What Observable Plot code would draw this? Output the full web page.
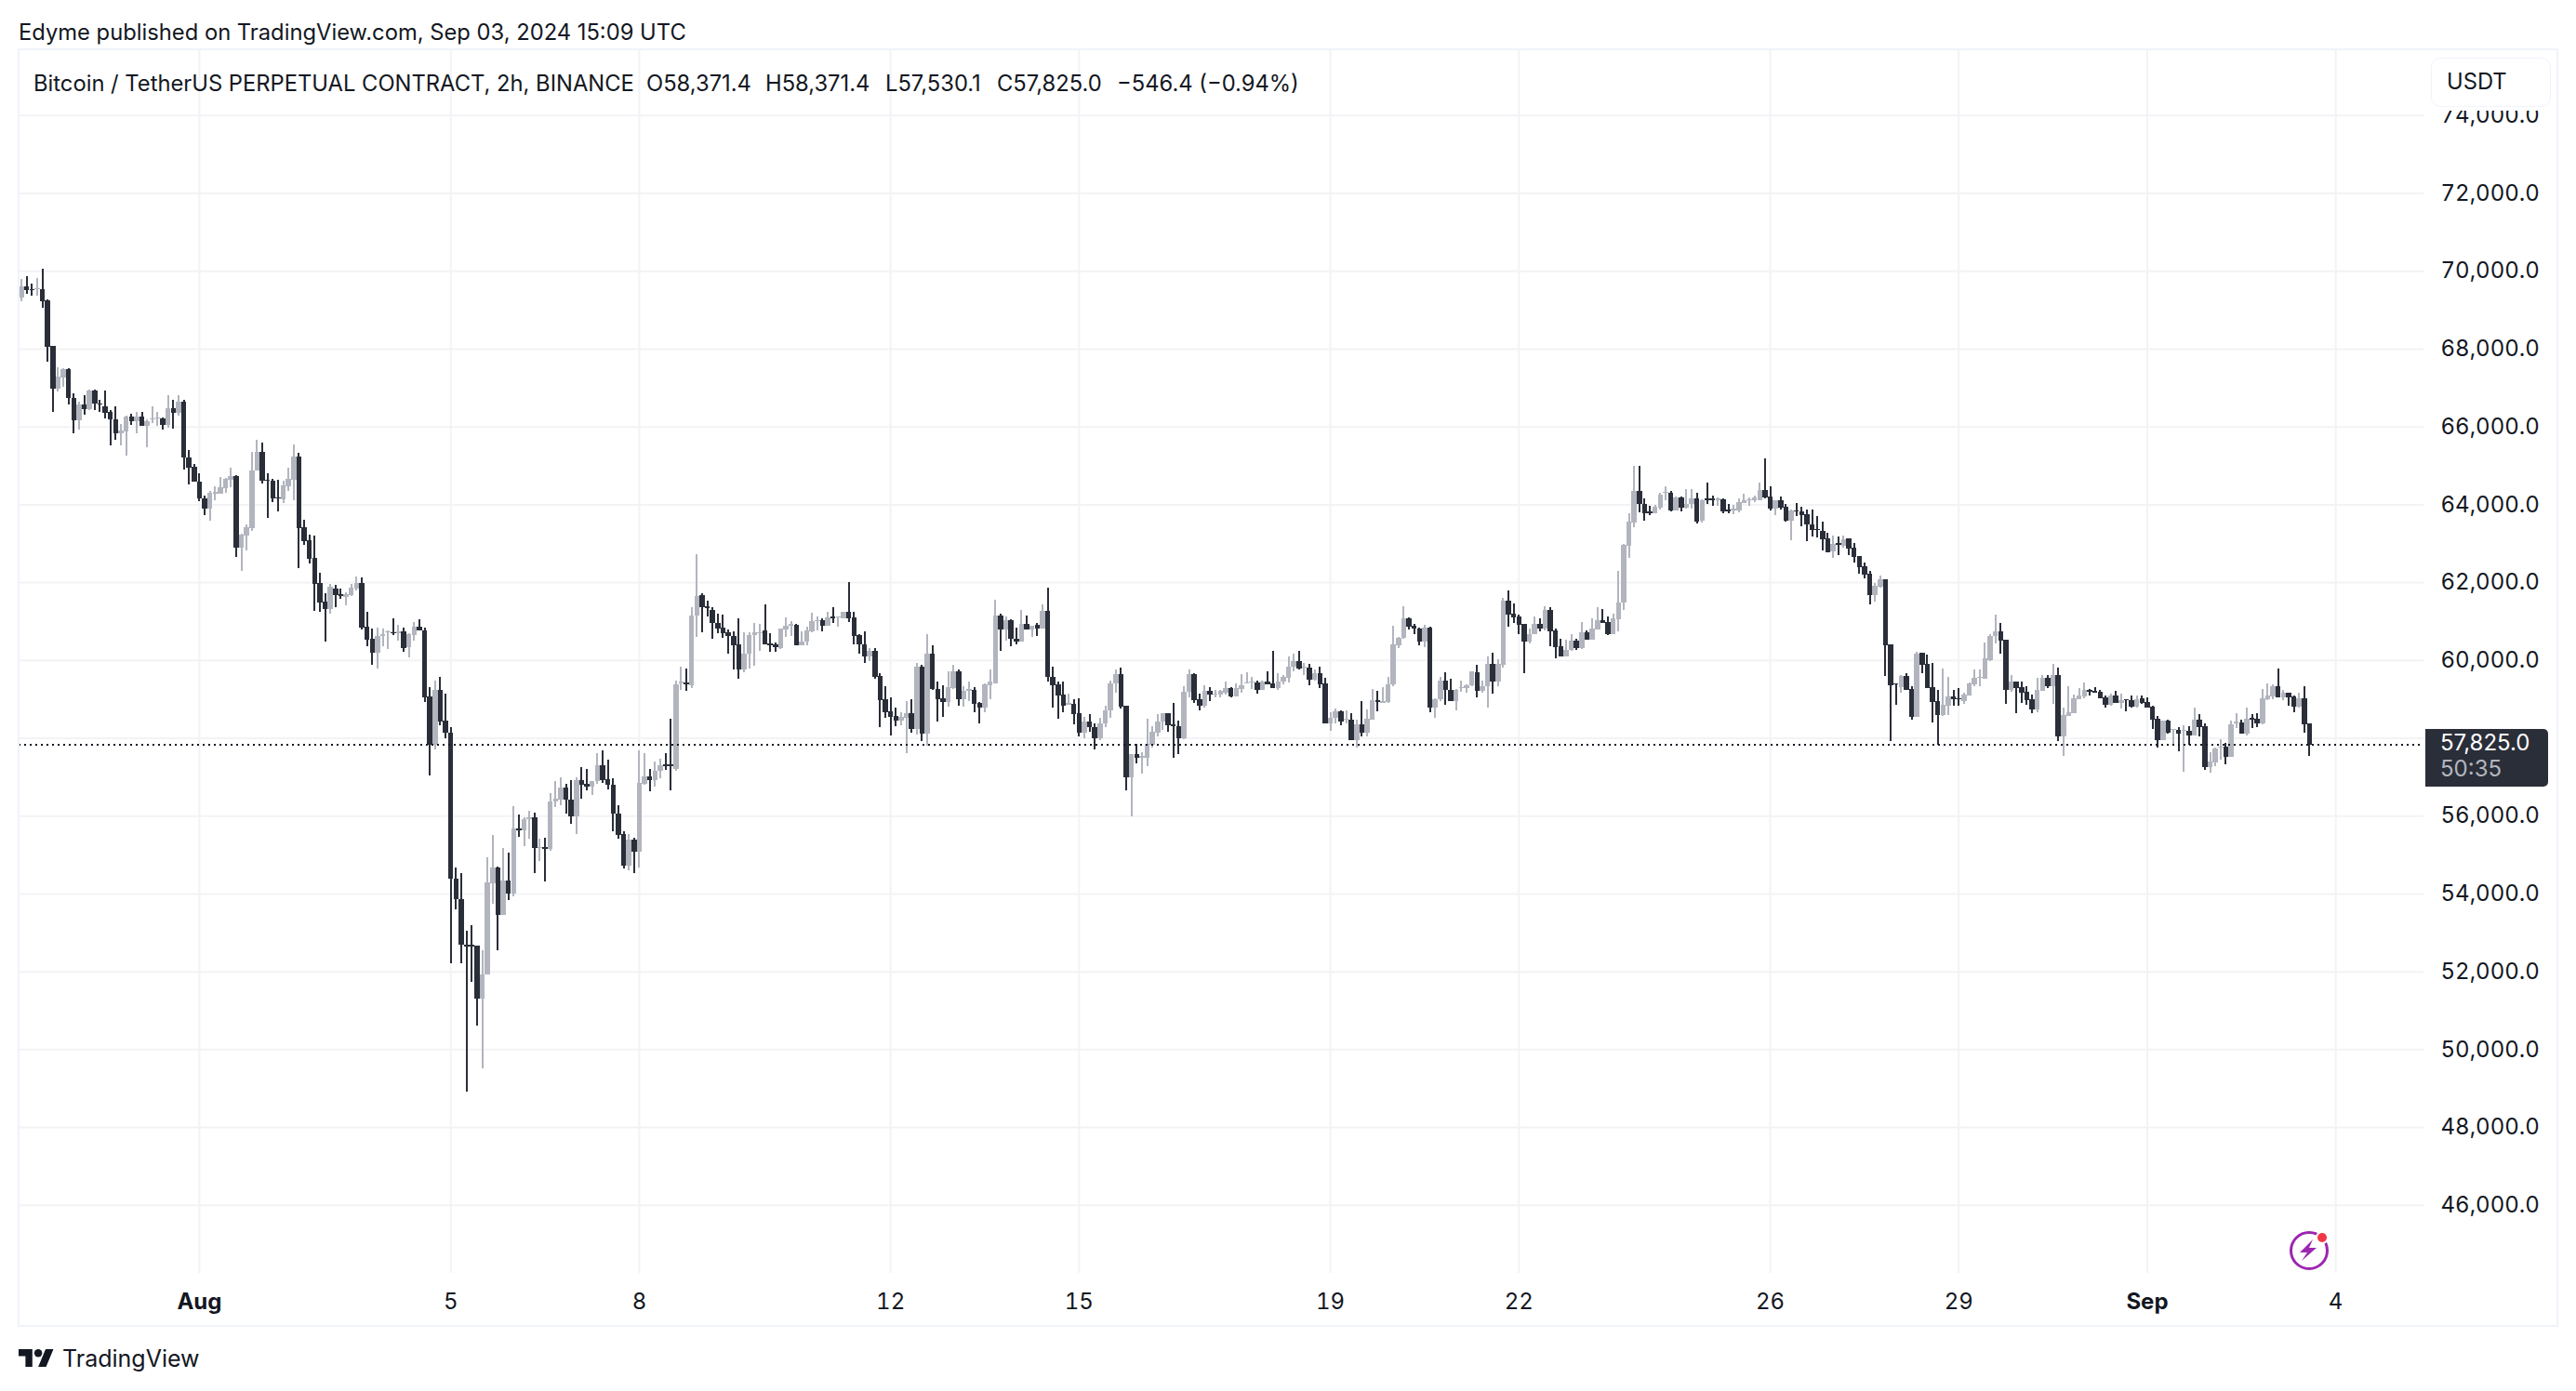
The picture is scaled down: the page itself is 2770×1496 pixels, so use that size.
<!DOCTYPE html>
<html><head><meta charset="utf-8">
<script src="https://cdn.jsdelivr.net/npm/d3@7"></script>
<script src="https://cdn.jsdelivr.net/npm/@observablehq/plot@0.6"></script>
<style>
html,body{margin:0;padding:0;background:#fff}
#page{position:relative;width:2770px;height:1496px;overflow:hidden;font-family:Inter,sans-serif;color:#131722;background:#fff}
#page svg.plot{position:absolute;left:0;top:0}
.t{position:absolute;white-space:nowrap;line-height:1;font-size:23.75px}
#frame{position:absolute;left:19px;top:52px;width:2728px;height:1371px;border:2px solid #f0f3fa}
#cover{position:absolute;left:2610px;top:55px;width:136px;height:64px;background:#fff}
#usdt{position:absolute;left:2614px;top:62px;width:127px;height:51px;border:1.5px solid #f0f3fa;border-radius:10px;background:#fff}
#last{position:absolute;left:2608px;top:784px;width:132px;height:62px;background:#2a2e39;border-radius:0 5px 5px 0}
</style></head><body><div id="page"></div>
<script>
const publishedLine = "Edyme published on TradingView.com, Sep 03, 2024 15:09 UTC";
const symbolLine = "Bitcoin / TetherUS PERPETUAL CONTRACT, 2h, BINANCE";
const quoteLabels = ["O58,371.4","H58,371.4","L57,530.1","C57,825.0","−546.4 (−0.94%)"];
const currencyLabel = "USDT";
const lastPrice = 57825.0;
const lastPriceLabel = "57,825.0";
const countdownLabel = "50:35";
const brandLabel = "TradingView";
const priceTicks = [46000,48000,50000,52000,54000,56000,58000,60000,62000,64000,66000,68000,70000,72000,74000];
const hiddenPriceLabels = [58000];
const dayTicks = ["2024-08-05","2024-08-08","2024-08-12","2024-08-15","2024-08-19","2024-08-22","2024-08-26","2024-08-29","2024-09-04"];
const monthTicks = ["2024-08-01","2024-09-01"];
const firstBarTime = "2024-07-29T04:00:00Z";
const barHours = 2;
const upColor = "#b2b5be", downColor = "#2a2e39";

// each row: open, high, low, close
const barsJul29 = [[69308,69785,69229,69602],[69602,69865,69403,69499],[69531,69682,69356,69499],[69523,69825,69356,69555],[69539,70055,69046,69229],[69252,69268,67662,68044],[68060,68076,66374,66971],[66971,67527,66899,67273],[67257,67488,67018,67472],[67464,67503,66565,66732],[66740,66860,65826,66160],[66160,66645,65921,66573],[66573,66796,66303,66446],[66446,66955,66430,66915],[66915,66955,66422,66581],[66597,66677,66367,66565],[66526,66915,66208,66351],[66367,66430,65508,66184],[66192,66526,65651,65826],[65834,66056,65508,65890],[65866,66279,65254,66263],[66263,66319,66040,66136],[66136,66382,65826,66263],[66263,66382,66017,66017],[66017,66192,65468,66144],[66184,66526,66088,66216],[66216,66367,66009,66239],[66216,66224,65913,66040],[66040,66812,65969,66478],[66478,66693,65945,66351],[66343,66812,66279,66645],[66645,66693,64888,65206],[65214,65405,64514,64943],[64960,65031,64578,64578]];
const barsAug1 = [[64594,64808,64077,64157],[64157,64236,63719,63886],[63886,64339,63576,64292],[64276,64474,64101,64315],[64276,64697,64268,64435],[64411,64673,64292,64649],[64633,64936,64435,64721],[64721,64745,62646,62884],[62884,63242,62296,63211],[63202,63481,62821,63401],[63393,65341,63314,64880],[64872,65651,64872,65341],[65341,65580,64538,64602],[64642,64808,63656,64610],[64602,64649,64061,64157],[64188,64625,63822,64157],[64133,64602,64037,64482],[64459,64951,64339,64649],[64633,65532,64109,65222],[65222,65333,62368,63393],[63401,63600,62964,63059],[63075,63218,62487,62606],[62614,63195,61270,61962],[61978,62233,61231,61485],[61501,61708,60484,61311],[61311,61946,61199,61883],[61844,61924,61364,61661],[61684,61844,61581,61638],[61615,61730,61410,61695],[61672,61958,61638,61866],[61832,62152,61786,61981],[61981,62118,60781,60839],[60861,61238,60359,60519],[60542,60816,59880,60188],[60188,60839,59788,60610],[60610,60816,60348,60656],[60702,60770,60290,60747],[60724,61067,60644,60690],[60690,60907,60496,60747],[60747,60839,60210,60302],[60325,60679,60073,60667],[60633,60976,60496,60861],[60861,61044,60770,60770],[60770,60839,58920,59046],[59069,59297,57036,57812],[57812,59468,57698,59240],[59240,59560,58326,58417],[58440,59126,57984,58121]];
const barsAug5 = [[58121,58269,52217,54375],[54375,54672,53587,53850],[53850,54535,52217,52673],[52685,53050,48905,52639],[52673,53187,51725,52639],[52650,52650,50595,51292],[51292,52548,49510,51931],[51931,54935,51908,54284],[54272,55494,53735,54672],[54672,54695,52536,53438],[53438,55174,53438,54329],[54329,55049,53838,53987],[53987,56248,53918,55677],[55677,56019,55448,55631],[55620,55951,55220,55905],[55905,56134,55414,55962],[55962,56088,54535,55163],[55163,55414,54843,55197],[55197,55425,54306,55152],[55152,56579,55106,56362],[56362,56899,56214,56442],[56408,56990,56271,56727],[56727,56807,56065,56408],[56419,56922,55802,55974],[55974,56990,55517,56922],[56922,57241,56442,56796],[56807,57207,56659,56750],[56750,56899,56522,56899],[56887,57618,56819,57298],[57298,57675,56842,56922],[56933,57435,56670,56784],[56784,56956,55608,56042],[56042,56270,55403,55506],[55517,55608,54649,54717],[54717,55517,54603,55380],[55391,55437,54512,55083]];
const barsAug8 = [[55083,57687,54672,56842],[56819,57595,56784,57013],[57001,57207,56636,56922],[56910,57390,56750,57150],[57150,57458,56956,57298],[57321,57618,57184,57275],[57310,58498,56647,57264],[57207,59468,57150,59377],[59400,59834,59240,59446],[59423,59788,59217,59377],[59354,61353,59286,61147],[61135,62712,60587,61638],[61661,61706,60724,61353],[61375,61524,61113,61341],[61295,61353,60553,60941],[60941,61181,60679,60816],[60827,61158,60576,60690],[60702,60782,60153,60610],[60610,60747,59765,60382],[60405,61067,59514,59765],[59765,60702,59685,60153],[60153,60713,59788,60633],[60633,60953,59857,60702],[60679,60930,60245,60724],[60770,61432,60405,60405],[60428,60690,60210,60382],[60393,60439,60199,60336],[60313,60816,60290,60816],[60789,61084,60582,60869],[60885,60988,60606,60916],[60892,60924,60366,60366],[60366,60725,60366,60478],[60470,60845,60366,60749],[60725,61203,60701,60988],[60988,61124,60765,61028],[61028,61060,60725,60877],[60869,61227,60869,61084],[61108,61347,60940,61060],[61084,61124,60845,61108],[61060,61227,61060,61227],[61227,62000,60964,61068],[61084,61243,60390,60606],[60630,60669,60151,60398],[60406,60725,59912,60088],[60088,60311,59968,60239],[60239,60311,59514,59577],[59601,59649,58270,58964],[58980,59330,58509,58669]];
const barsAug12 = [[58685,59051,58071,58549],[58565,58780,58310,58454],[58454,58661,58334,58541],[58525,58956,57617,58645],[58645,58996,58143,58239],[58239,59928,58095,59817],[59817,59880,57928,58119],[58119,60669,57792,60167],[60167,60382,59227,59251],[59259,59450,58414,59003],[59019,59362,58533,58932],[58932,59713,58812,59314],[59290,59880,59243,59697],[59697,59745,58836,58980],[58980,59330,58812,59195],[59195,59434,58956,59243],[59219,59291,58669,58884],[58908,58932,58366,58788],[58788,59394,58669,59370],[59362,59745,58988,59434],[59410,61538,59410,61132],[61132,61179,60231,60773],[60773,61124,60486,61012],[61012,61036,60343,60542],[60550,60821,60390,60462],[60462,61275,60462,60916],[60916,61132,60773,60773],[60773,60885,60582,60885],[60892,60940,60606,60797],[60797,61418,60797,61251],[61251,61849,59434,59554],[59577,59817,58765,59362],[59386,59434,58501,59099],[59123,59434,58669,58836],[58860,59147,58860,58908],[58884,58996,58358,58621]];
const barsAug15 = [[58645,59027,58047,58143],[58143,58549,57983,58430],[58426,58609,58156,58267],[58283,58370,57695,57997],[57981,58521,57933,58378],[58362,58823,58267,58712],[58696,59459,58505,59404],[59388,59746,59165,59642],[59642,59801,58744,58808],[58831,58831,56645,56979],[56979,57591,55985,57591],[57591,57838,57337,57496],[57496,57631,57074,57536],[57496,58490,57281,57838],[57822,58299,57758,58156],[58140,58609,58028,58426],[58410,58640,58211,58633],[58633,58640,58156,58330],[58346,58903,57496,58299],[58299,58450,57591,57997],[57997,59324,57973,59181],[59173,59762,59046,59634],[59642,59666,58903,58966],[58990,59141,58712,58831],[58831,59348,58768,59205],[59205,59300,58951,59102],[59110,59237,59046,59141],[59110,59229,59030,59205],[59165,59444,59110,59276],[59276,59300,59030,59070],[59070,59396,59070,59276],[59261,59642,59165,59348],[59396,59682,59396,59428],[59412,59563,59261,59451],[59428,59475,59125,59229],[59237,59475,59221,59444],[59444,59706,59364,59380],[59396,60239,59269,59284],[59284,59666,59221,59444],[59436,59618,59364,59555],[59539,60095,59412,59825],[59817,60159,59698,59976],[59976,60239,59762,59770],[59793,59921,59618,59825],[59801,59897,59340,59483],[59483,59746,59459,59666],[59666,59825,59284,59380],[59404,59547,58362,58362]];
const barsAug19 = [[58362,58664,58171,58513],[58505,58744,58370,58688],[58688,58712,58330,58426],[58466,58712,58362,58489],[58466,58640,57933,57949],[57949,58466,57758,58354],[58354,58951,58028,58140],[58140,58728,58044,58497],[58474,59253,58474,58975],[58967,59213,58688,58911],[58903,59308,58903,58935],[58919,59571,58903,59380],[59364,60882,59316,60397],[60387,60594,60316,60578],[60562,61382,60538,61080],[61080,61104,60777,60865],[60889,60928,60658,60801],[60817,60841,60387,60467],[60467,60904,60324,60833],[60841,60857,58669,58772],[58772,59027,58509,58995],[58987,59576,58955,59480],[59480,59687,58844,59226],[59242,59528,58955,58955],[58955,59265,58716,59242],[59273,59472,59193,59313],[59273,59385,59170,59361],[59345,59719,59329,59703],[59695,59886,59050,59218],[59210,59480,59170,59337],[59321,60101,58788,59910],[59910,60196,59146,59456],[59456,60029,59337,59910],[59886,61605,59814,61533],[61533,61796,60865,61175],[61199,61461,60960,61104]];
const barsAug22 = [[61119,61167,60674,60913],[60928,60928,59671,60483],[60483,60817,60419,60674],[60658,61127,60658,60936],[60928,61080,60745,60817],[60817,61382,60769,61294],[61294,61358,60363,60745],[60769,60809,60053,60339],[60363,60554,60101,60101],[60101,60530,60101,60260],[60260,60674,60244,60507],[60499,60554,60260,60308],[60316,60984,60292,60722],[60722,60769,60530,60530],[60530,61072,60530,60817],[60793,61358,60793,61032],[61032,61318,60960,60960],[60976,61127,60650,60666],[60674,61199,60674,61080],[61056,62289,60745,61485],[61469,62981,61294,62965],[62942,63777,62631,63562],[63538,64994,63419,64350],[64350,64994,63801,63999],[64016,64159,63586,63777],[63825,63968,63729,63777],[63777,63984,63777,63944],[63920,64302,63872,64254],[64286,64469,64111,64326],[64302,64350,63825,63849],[63849,64207,63849,64183],[64183,64207,63825,63920],[63920,64398,63896,64016],[64016,64398,63896,64159],[64159,64302,63514,63562],[63569,64127,63530,64111],[64143,64549,64015,64111],[64143,64231,63952,64111],[64111,64167,63952,64143],[64119,64143,63760,63808],[63856,64000,63760,63816],[63840,63976,63737,63888],[63832,64143,63784,64047],[64031,64263,64031,64095],[64095,64167,63952,64135],[64111,64215,64047,64167],[64111,64549,64095,64358],[64358,65171,64143,64167]];
const barsAug26 = [[64191,64454,63832,63880],[63880,64095,63713,64095],[64095,64191,63856,63904],[63928,64000,63545,63569],[63569,63856,63067,63832],[63848,64023,63689,63816],[63808,63928,63426,63729],[63737,63856,63043,63474],[63490,63856,63163,63346],[63370,63689,63139,63338],[63306,63545,62804,63091],[63115,63259,62757,62773],[62780,63187,62613,62972],[62996,63163,62685,62964],[62932,63187,62876,63107],[63115,63115,62685,62852],[62876,62996,62502,62637],[62661,62661,62207,62374],[62398,62494,62087,62183],[62207,62278,61418,61657],[61657,61968,61490,61896],[61872,62159,61848,62063],[62063,62063,59585,60366],[60390,60390,57928,59362],[59410,59410,58860,59370],[59314,59625,59171,59601],[59601,59649,59219,59242],[59266,59338,58478,58549],[58549,60199,58526,60151],[60175,60175,59649,59872],[59888,60127,59267,59283],[59314,59912,58406,58932],[58956,59219,57832,58597],[58597,59792,58550,58852],[58836,59577,58597,59075],[59075,59219,58813,58980]];
const barsAug29 = [[59027,59290,58836,58988],[58956,59171,58884,59123],[59099,59426,59091,59410],[59386,59745,59338,59553],[59545,59745,59338,59569],[59529,60438,59529,60032],[59984,60653,59960,60605],[60605,61155,60414,60748],[60748,60940,60151,60486],[60510,60510,58884,59227],[59223,59619,59191,59445],[59445,59445,58643,59286],[59310,59445,58905,59167],[59191,59334,58857,58976],[59000,59119,58643,58738],[58738,59548,58667,59238],[59214,59619,59214,59548],[59548,59619,59286,59326],[59334,59905,58881,59619],[59619,59810,57905,58048],[58048,58786,57524,58587],[58572,59334,58572,58659],[58643,59119,58643,59024],[59000,59286,59000,59095],[59071,59429,59024,59238],[59222,59262,59095,59175],[59215,59310,59167,59167],[59191,59238,59024,59024],[59048,59095,58786,58849],[58857,59143,58833,59095],[59095,59215,58905,58905],[58905,59143,58762,58976],[59000,59000,58691,58961],[58976,59095,58786,58810],[58810,59095,58786,59000],[59024,59095,58881,58905]];
const barsSep1 = [[58929,59048,58786,58786],[58810,58833,58238,58476],[58500,58572,57738,57929],[57929,58453,57929,58453],[58453,58476,58119,58143],[58214,58238,57833,58238],[58214,58286,57643,58119],[58191,58333,57119,58214],[58191,58310,57833,58071],[58071,58786,58071,58476],[58476,58619,58048,58286],[58310,58381,57167,57238],[57238,57619,57095,57381],[57357,57738,57262,57714],[57738,57976,57429,57778],[57762,57857,57310,57500],[57500,58453,57500,58357],[58381,58643,58262,58429],[58405,58476,58119,58119],[58119,58786,58071,58500],[58524,58619,58262,58476],[58500,58643,58286,58381],[58381,59262,58357,59024],[59000,59405,58976,59095],[59071,59381,59000,59334],[59334,59786,59048,59048],[59048,59238,58976,59167],[59167,59167,58833,59048],[59071,59095,58667,58810],[58810,59167,58786,59024],[59024,59334,58143,58357],[58371.4,58371.4,57530.1,57825.0]];

const candles = [...barsJul29,...barsAug1,...barsAug5,...barsAug8,...barsAug12,...barsAug15,...barsAug19,...barsAug22,...barsAug26,...barsAug29,...barsSep1]
  .map((r,i)=>({time:new Date(+new Date(firstBarTime)+i*barHours*3600e3),open:r[0],high:r[1],low:r[2],close:r[3]}));
const colorOf = d => d.close >= d.open ? upColor : downColor;
const utc = s => new Date(s+"T00:00:00Z");
const gridStyle = {stroke:"#f3f3f6",strokeOpacity:1,strokeWidth:2};
const axisFont = {fontSize:24,fill:"#131722"};

const chart = Plot.plot({
  width:2770,height:1496,
  marginLeft:20,marginRight:164,marginTop:53,marginBottom:127,
  style:{fontFamily:"Inter,sans-serif",fontSize:"24px",background:"transparent"},
  x:{type:"utc",domain:[new Date("2024-07-29T03:06:00Z"),new Date("2024-09-05T09:42:00Z")]},
  y:{domain:[44250,75693]},
  color:{type:"identity"},
  marks:[
    Plot.gridY(priceTicks,gridStyle),
    Plot.gridX([...monthTicks,...dayTicks].map(utc),gridStyle),
    Plot.ruleX(candles,{x:"time",y1:"low",y2:"high",stroke:colorOf,strokeWidth:2,shapeRendering:"crispEdges"}),
    Plot.ruleX(candles,{x:"time",y1:"open",y2:"close",stroke:colorOf,strokeWidth:5.5,shapeRendering:"crispEdges"}),
    Plot.ruleY([lastPrice],{stroke:"#131722",strokeWidth:2,strokeDasharray:"2 4",shapeRendering:"crispEdges"}),
    Plot.axisY({anchor:"right",ticks:priceTicks.filter(p=>!hiddenPriceLabels.includes(p)),tickSize:0,tickPadding:18,label:null,tickFormat:d=>d3.format(",.1f")(d),...axisFont}),
    Plot.axisX({anchor:"bottom",ticks:dayTicks.map(utc),tickSize:0,tickPadding:21,label:null,tickFormat:d=>String(d.getUTCDate()),...axisFont}),
    Plot.axisX({anchor:"bottom",ticks:monthTicks.map(utc),tickSize:0,tickPadding:21,label:null,tickFormat:d=>d3.utcFormat("%b")(d),fontWeight:700,...axisFont})
  ]
});
const page = document.getElementById("page");
page.append(chart);
function add(html){const w=document.createElement("div");w.innerHTML=html;while(w.firstChild)page.append(w.firstChild);}
add(`<div id="frame"></div><div id="cover"></div><div id="usdt"></div><div id="last"></div>`);
const text=(s,x,cy,extra="")=>add(`<div class="t" style="left:${x}px;top:${cy-12}px;${extra}">${s}</div>`);
text(publishedLine,20,35);
text(symbolLine,36,90);
const qx=[695,823,952,1072,1201];
quoteLabels.forEach((q,i)=>text(q,qx[i],90));
text(currencyLabel,2631,88);
text(lastPriceLabel,2624,799,"color:#fff;font-size:24px");
text(countdownLabel,2624,827,"color:#b2b5be;font-size:24px");
text(brandLabel,67,1461,"font-size:25px");
add(`<svg style="position:absolute;left:20px;top:1451px" width="38" height="19" viewBox="0 4 36 18"><path fill="#131722" d="M14 22H7V11H0V4h14v18zM28 22h-8l7.5-18h8L28 22z"/><circle fill="#131722" cx="20" cy="8" r="4"/></svg>`);
add(`<svg style="position:absolute;left:2455px;top:1318px" width="56" height="56" viewBox="0 0 56 56"><circle cx="28" cy="27" r="19.5" fill="none" stroke="#9c27b0" stroke-width="3"/><path fill="#9c27b0" d="M32 15 L18 29 L26 29 L20 38 L36 24 L28 24 Z"/><circle cx="42" cy="13" r="7" fill="#fff"/><circle cx="42" cy="13" r="5" fill="#f23645"/></svg>`);
</script></body></html>
